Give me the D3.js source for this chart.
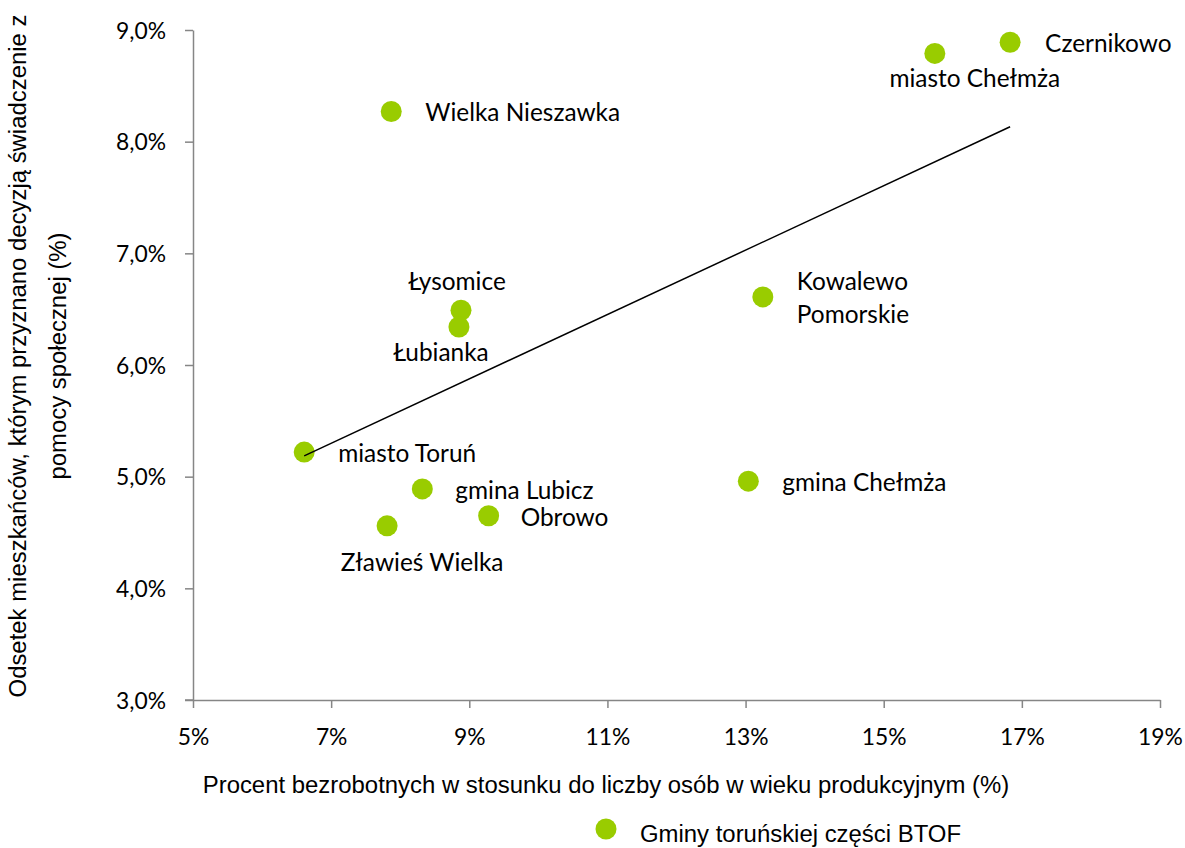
<!DOCTYPE html>
<html><head><meta charset="utf-8">
<script src="https://cdn.jsdelivr.net/npm/d3@7"></script>
<style>
body{margin:0;background:#fff;}
svg{display:block;}
</style></head>
<body>
<svg id="chart" width="1185" height="848"></svg>
<script>
// Data
const names = ["Czernikowo","miasto Chełmża","Wielka Nieszawka","Łysomice","Łubianka","Kowalewo Pomorskie","miasto Toruń","gmina Lubicz","Obrowo","Zławieś Wielka","gmina Chełmża"];
const unemployment = [16.83,15.74,7.87,8.88,8.85,13.25,6.61,8.32,9.28,7.81,13.04];
const welfare = [8.89,8.79,8.27,6.49,6.34,6.61,5.22,4.89,4.65,4.56,4.96];
const xTicks = [5,7,9,11,13,15,17,19];
const yTicks = [3,4,5,6,7,8,9];
const seriesName = "Gminy toruńskiej części BTOF";
const xTitle = "Procent bezrobotnych w stosunku do liczby osób w wieku produkcyjnym (%)";
const yTitleLines = ["Odsetek mieszkańców, którym przyznano decyzją świadczenie z","pomocy społecznej (%)"];

// Label layout (offsets in px relative to the point, anchor)
const labelLayout = {
  "Czernikowo":{dx:35,dy:1,anchor:"start"},
  "miasto Chełmża":{dx:40,dy:25,anchor:"middle"},
  "Wielka Nieszawka":{dx:34,dy:1,anchor:"start"},
  "Łysomice":{dx:-4,dy:-29,anchor:"middle"},
  "Łubianka":{dx:-18,dy:25,anchor:"middle"},
  "Kowalewo Pomorskie":{dx:34,dy:-15,anchor:"start",lines:["Kowalewo","Pomorskie"]},
  "miasto Toruń":{dx:34,dy:1,anchor:"start"},
  "gmina Lubicz":{dx:33,dy:2,anchor:"start"},
  "Obrowo":{dx:32,dy:2,anchor:"start"},
  "Zławieś Wielka":{dx:35,dy:37,anchor:"middle"},
  "gmina Chełmża":{dx:34,dy:1,anchor:"start"}
};

const svg = d3.select("#chart");
const x = d3.scaleLinear().domain([5,19]).range([193,1160]);
const y = d3.scaleLinear().domain([3,9]).range([700,30]);
const axisColor = "#868686";
const green = "#99cc00";
const labelFont = "Lato, 'Open Sans', sans-serif";
const arialFont = "'Liberation Sans', Arial, sans-serif";

// helper: font size so that a given string has a target width
function fitSize(family, str, target){
  const t = svg.append("text").style("font-family",family).style("font-size","100px").text(str);
  const w = t.node().getComputedTextLength();
  t.remove();
  return 100*target/w;
}
const labelSize = fitSize(labelFont,"miasto Chełmża",171);
const tickSize = fitSize(labelFont,"9,0%",50);
const titleSize = fitSize(arialFont,xTitle,807);

// axes
const xAxis = svg.append("g").attr("transform","translate(0,700)")
  .call(d3.axisBottom(x).tickValues(xTicks).tickSize(8).tickSizeOuter(0).tickFormat(d=>d+"%"));
const yAxis = svg.append("g").attr("transform","translate(193,0)")
  .call(d3.axisLeft(y).tickValues(yTicks).tickSize(8).tickSizeOuter(0).tickFormat(d=>d3.format(".1f")(d).replace(".",",")+"%"));
[xAxis,yAxis].forEach(g=>{
  g.select(".domain").attr("stroke",axisColor).attr("stroke-width",1.5);
  g.selectAll(".tick line").attr("stroke",axisColor).attr("stroke-width",1.5);
  g.selectAll(".tick text").attr("fill","#000").style("font-family",labelFont).style("font-size",tickSize+"px");
});
svg.append("line").attr("x1",185).attr("x2",193).attr("y1",700).attr("y2",700).attr("stroke",axisColor).attr("stroke-width",1.5);
xAxis.selectAll(".tick text").attr("y",37).attr("dy","0.35em");
yAxis.selectAll(".tick text").attr("x",-27).attr("dy","0.35em");

// regression line computed from data
const n = unemployment.length;
const mx = d3.mean(unemployment), my = d3.mean(welfare);
let sxy=0,sxx=0;
for(let i=0;i<n;i++){sxy+=(unemployment[i]-mx)*(welfare[i]-my);sxx+=(unemployment[i]-mx)**2;}
const slope = sxy/sxx, intercept = my - slope*mx;
const [xmin,xmax] = d3.extent(unemployment);

// points
const data = names.map((nm,i)=>({name:nm,ux:unemployment[i],wy:welfare[i]}));
svg.append("g").selectAll("circle").data(data).join("circle")
  .attr("cx",d=>x(d.ux)).attr("cy",d=>y(d.wy)).attr("r",10.5).attr("fill",green);
svg.append("line")
  .attr("x1",x(xmin)).attr("y1",y(intercept+slope*xmin))
  .attr("x2",x(xmax)).attr("y2",y(intercept+slope*xmax))
  .attr("stroke","#000").attr("stroke-width",1.5);

// labels
const lg = svg.append("g").style("font-family",labelFont).style("font-size",labelSize+"px").attr("fill","#000");
data.forEach(d=>{
  const L = labelLayout[d.name];
  const lines = L.lines || [d.name];
  const t = lg.append("text").attr("text-anchor",L.anchor)
    .attr("x",x(d.ux)+L.dx).attr("y",y(d.wy)+L.dy);
  lines.forEach((ln,i)=>{
    t.append("tspan").attr("x",x(d.ux)+L.dx).attr("dy", i===0?"0.35em":"33px").text(ln);
  });
});

// axis titles
svg.append("text").attr("x",606).attr("y",785).attr("dy","0.35em").attr("text-anchor","middle")
  .style("font-family",arialFont).style("font-size",titleSize+"px").text(xTitle);
const yt = svg.append("text").attr("transform","translate(26,356) rotate(-90)").attr("text-anchor","middle")
  .style("font-family",arialFont).style("font-size",titleSize+"px");
yTitleLines.forEach((ln,i)=>yt.append("tspan").attr("x",0).attr("dy",i===0?0:"40px").text(ln));

// legend
svg.append("circle").attr("cx",606).attr("cy",829).attr("r",10.5).attr("fill",green);
svg.append("text").attr("x",640).attr("y",834).attr("dy","0.35em").style("font-family",arialFont).style("font-size",titleSize+"px").text(seriesName);
</script>
</body></html>
